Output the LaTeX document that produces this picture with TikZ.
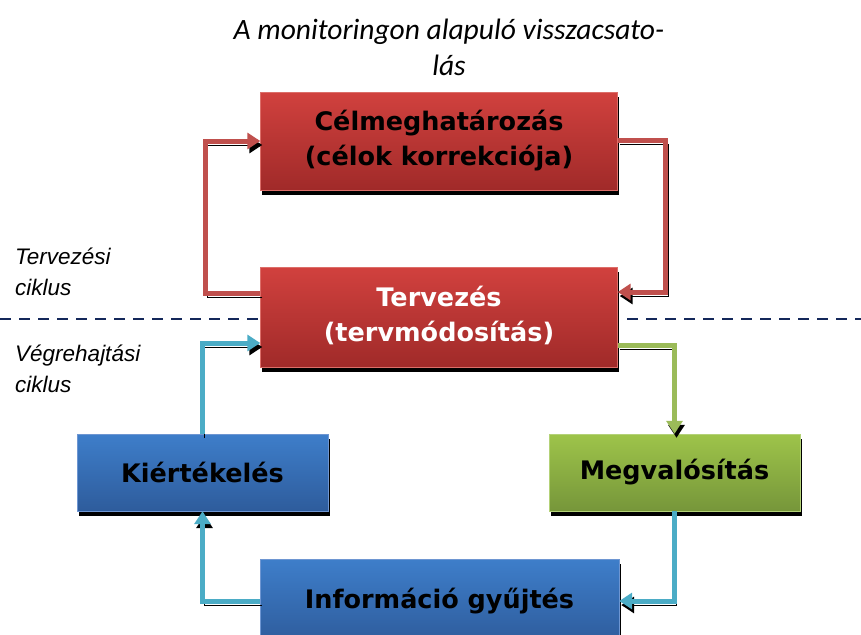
\documentclass[tikz,border=0pt]{standalone}
\usepackage{fontspec}
\setmainfont{DejaVu Sans}
\newfontfamily\titlefont{Carlito}
\newfontfamily\sidefont{Liberation Sans}
\usetikzlibrary{arrows.meta,shadows}
\definecolor{cRed}{RGB}{192,80,77}
\definecolor{cGreen}{RGB}{155,187,89}
\definecolor{cBlue}{RGB}{75,172,198}
\definecolor{cNavy}{RGB}{20,40,90}
\definecolor{redTop}{RGB}{209,65,62}
\definecolor{redBot}{RGB}{160,42,41}
\definecolor{redLine}{RGB}{220,110,105}
\definecolor{blueTop}{RGB}{62,126,202}
\definecolor{blueBot}{RGB}{46,92,156}
\definecolor{blueLine}{RGB}{110,150,210}
\definecolor{greenTop}{RGB}{158,196,74}
\definecolor{greenBot}{RGB}{118,150,58}
\definecolor{greenLine}{RGB}{180,210,120}
\newcommand{\twoLines}[2]{\raisebox{-3pt}{\begin{tabular}{@{}c@{}}#1\\#2\end{tabular}}}

\begin{document}
\begin{tikzpicture}[x=1pt,y=-1pt,
  box/.style={rectangle, inner sep=0pt, align=center, font={\bfseries\fontsize{25.5}{35}\selectfont},
    drop shadow={shadow xshift=1.5pt, shadow yshift=-5pt, fill=black, opacity=1}},
  redbox/.style={box, top color=redTop, bottom color=redBot, draw=redLine},
  bluebox/.style={box, top color=blueTop, bottom color=blueBot, draw=blueLine},
  greenbox/.style={box, top color=greenTop, bottom color=greenBot, draw=greenLine},
  flow/.style={line width=5pt, -{Triangle[length=13pt,width=16pt]},
    preaction={draw=black, transform canvas={xshift=2pt,yshift=-4pt}}},
  sidelabel/.style={anchor=north west, inner sep=0pt, align=left, font={\sidefont\itshape\fontsize{22.5}{31}\selectfont}}]
\useasboundingbox (0,0) rectangle (861,634);

% title
\node[align=center, font={\titlefont\itshape\fontsize{29.5}{36}\selectfont}] (title) at (449,47)
  {A monitoringon alapuló visszacsato-\\lás};

% cycle labels
\node[sidelabel] (tervlabel) at (15,248) {Tervezési\\ciklus};
\node[sidelabel] (vegrlabel) at (15,345) {Végrehajtási\\ciklus};
\draw[cNavy, line width=2pt, dash pattern=on 11pt off 8pt] (0,319) -- (861,319);

% boxes
\node[redbox, minimum width=357pt, minimum height=98pt] (celm) at (439,141)
  {\twoLines{Célmeghatározás}{(célok korrekciója)}};
\node[redbox, text=white, minimum width=357pt, minimum height=100pt] (terv) at (439,317)
  {\twoLines{Tervezés}{(tervmódosítás)}};
\node[bluebox, minimum width=251pt, minimum height=77pt] (kiert) at (202.5,472.5) {Kiértékelés};
\node[greenbox, minimum width=251pt, minimum height=77pt] (megv) at (674.5,472.5) {Megvalósítás};
\node[bluebox, minimum width=359pt, minimum height=84pt] (info) at (439.5,601) {Információ gyűjtés};

% connectors
\draw[flow, cRed] ([yshift=24pt]terv.west) -- ++(-55,0) |- (celm.west);
\draw[flow, cRed] ([yshift=1pt]celm.east) -- ++(48,0) |- ([yshift=25pt]terv.east);
\draw[flow, cGreen] ([yshift=-28pt]terv.east) -| (megv.north);
\draw[flow, cBlue] (megv.south) |- (info.east);
\draw[flow, cBlue] (info.west) -| (kiert.south);
\draw[flow, cBlue] (kiert.north) |- ([yshift=-26pt]terv.west);
\end{tikzpicture}
\end{document}
